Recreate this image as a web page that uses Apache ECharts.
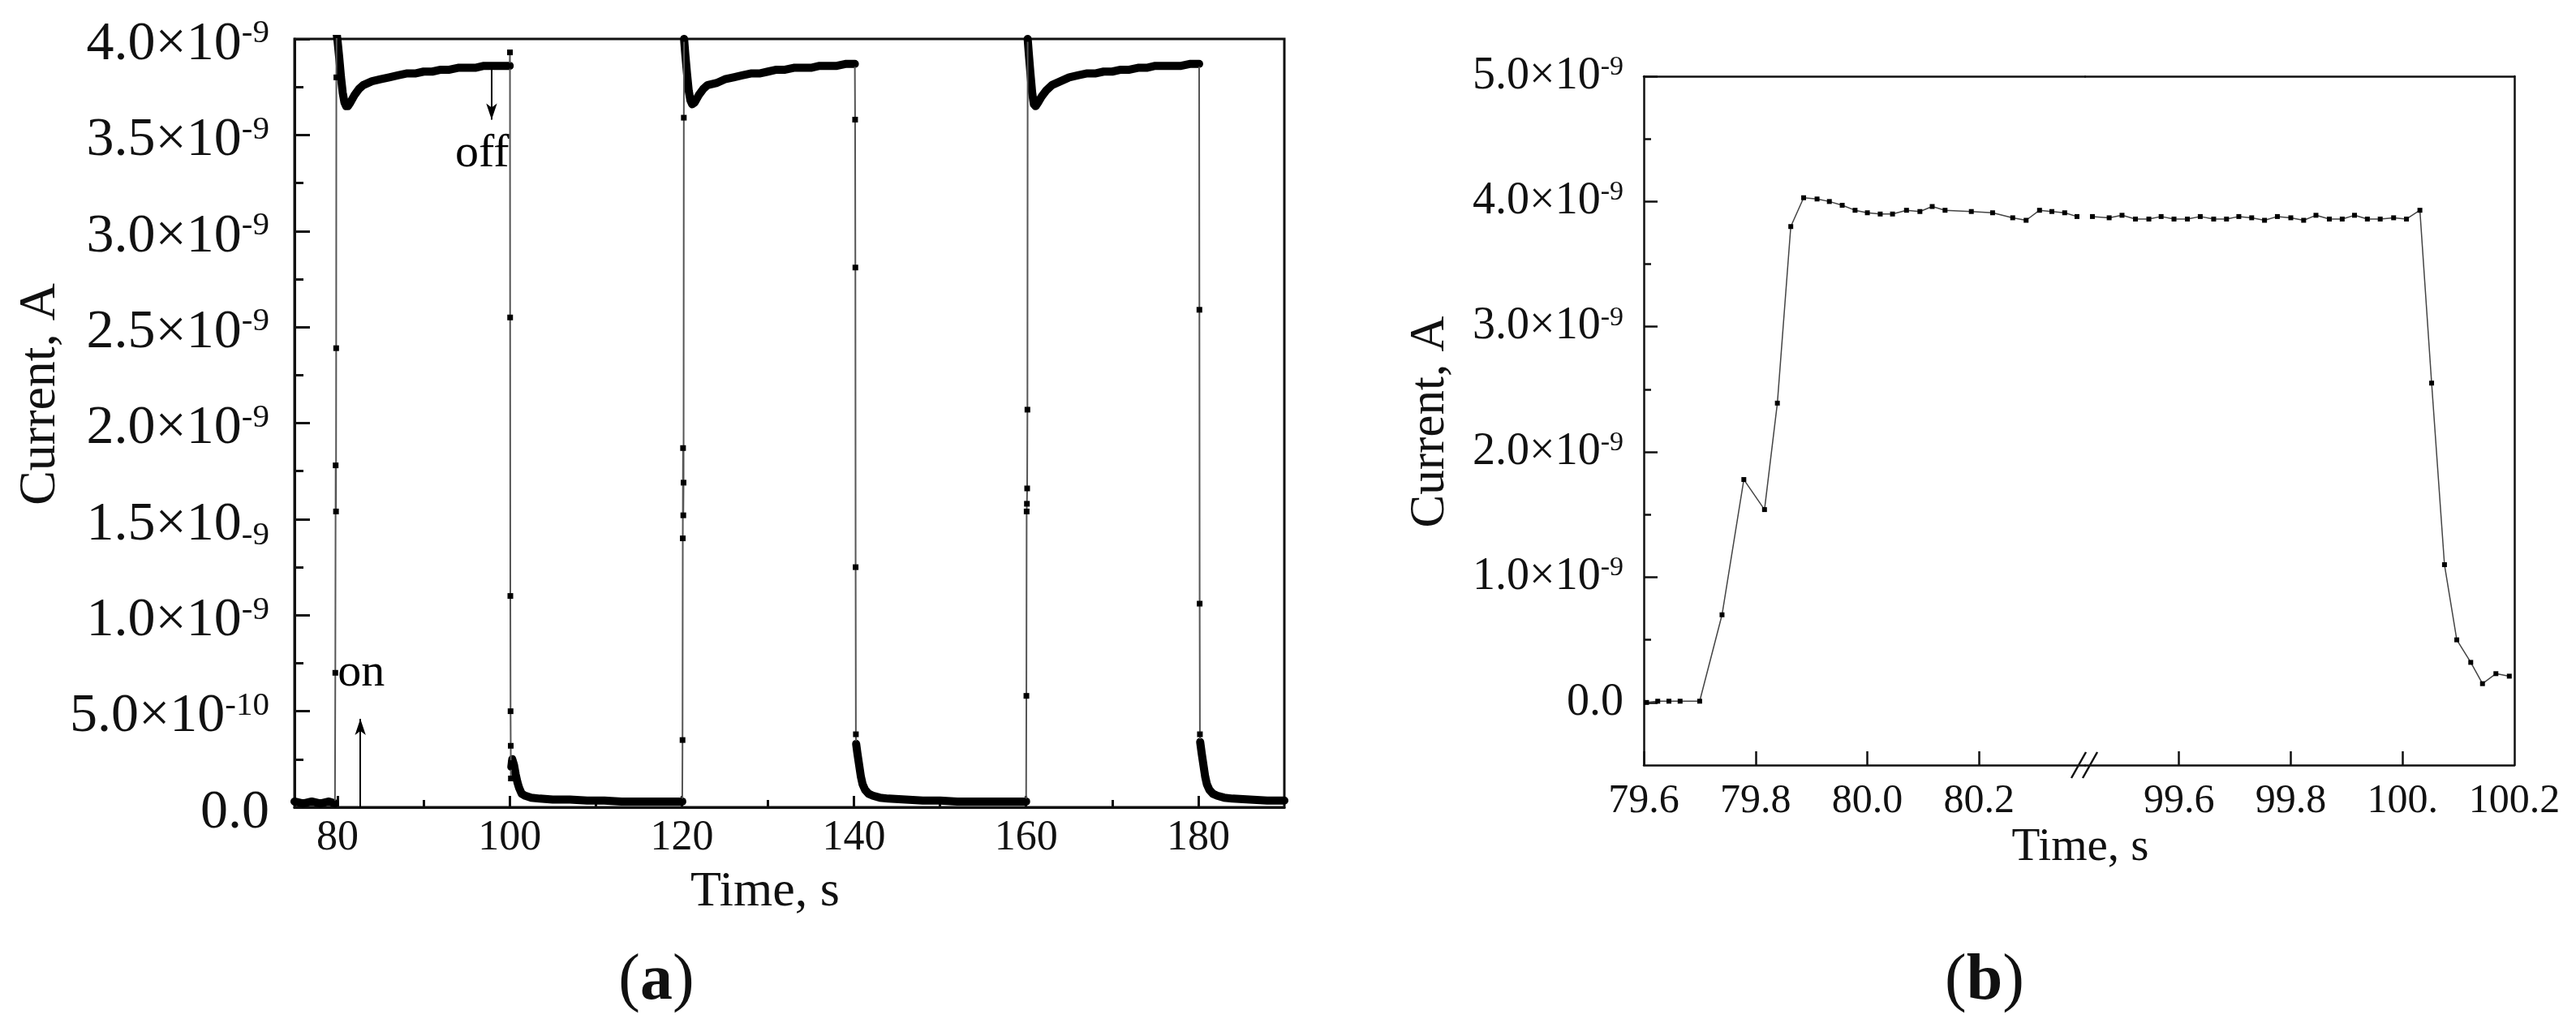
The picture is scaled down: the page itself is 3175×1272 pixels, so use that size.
<!DOCTYPE html>
<html><head><meta charset="utf-8">
<script src="https://cdn.jsdelivr.net/npm/echarts@6/dist/echarts.min.js"></script>
<style>html,body{margin:0;padding:0;background:#fff}#c{width:3175px;height:1272px}</style>
</head><body><div id="c"></div><script>
// Current values are in units of 1e-9 A; time in s.
// ---- Panel (a): plateaus (thick bands) and transitions ----
const aBase0 = [[75,0.03],[76,0.02],[77,0.03],[78,0.02],[79,0.03],[79.7,0.02]];
const aRise1 = [[79.7,0.02],[79.74,0.70],[79.78,1.78],[79.82,1.54],[79.84,2.39],[79.86,3.80],[79.89,4.03]];
const aOn1 = [[79.89,4.03],[80.0,3.99],[80.2,3.90],[80.4,3.80],[80.6,3.72],[80.8,3.67],[81.0,3.65],[81.2,3.65],[81.5,3.67],[82,3.71],[82.5,3.74],[83,3.76],[84,3.78],[85,3.79],[86,3.80],[87,3.81],[88,3.82],[89,3.82],[90,3.83],[91,3.83],[92,3.84],[93,3.84],[94,3.85],[95,3.85],[96,3.85],[97,3.86],[98,3.86],[99,3.86],[100,3.86]];
const aFall1 = [[100,3.86],[100.03,3.93],[100.05,2.55],[100.075,1.10],[100.1,0.50],[100.12,0.32],[100.14,0.15],[100.17,0.23],[100.19,0.21]];
const aOff1 = [[100.19,0.21],[100.3,0.25],[100.5,0.22],[100.7,0.17],[100.9,0.13],[101.1,0.10],[101.4,0.07],[101.8,0.06],[102.5,0.05],[103.5,0.045],[105,0.04],[107,0.04],[109,0.035],[111,0.035],[113,0.03],[115,0.03],[117,0.03],[119,0.03],[120.05,0.03]];
const aRise2 = [[120.05,0.03],[120.08,0.35],[120.11,1.40],[120.14,1.87],[120.17,1.52],[120.2,1.69],[120.23,3.59],[120.26,4.00]];
const aOn2 = [[120.26,4.00],[120.4,3.92],[120.6,3.82],[120.8,3.73],[121,3.68],[121.2,3.66],[121.5,3.67],[122,3.71],[122.5,3.74],[123,3.76],[124,3.77],[125,3.79],[126,3.80],[127,3.81],[128,3.82],[129,3.82],[130,3.83],[131,3.84],[132,3.84],[133,3.85],[134,3.85],[135,3.85],[136,3.86],[137,3.86],[138,3.86],[139,3.87],[140.1,3.87]];
const aFall2 = [[140.1,3.87],[140.13,3.58],[140.16,2.81],[140.19,1.25],[140.22,0.38],[140.25,0.33]];
const aOff2 = [[140.25,0.33],[140.4,0.28],[140.6,0.22],[140.8,0.16],[141,0.12],[141.3,0.09],[141.7,0.07],[142.2,0.06],[143,0.05],[144,0.045],[146,0.04],[148,0.035],[150,0.035],[152,0.03],[154,0.03],[156,0.03],[158,0.03],[160,0.03]];
const aRise3 = [[160,0.03],[160.03,0.58],[160.06,1.54],[160.09,1.58],[160.12,1.66],[160.15,2.07],[160.18,4.00]];
const aOn3 = [[160.18,4.00],[160.3,3.93],[160.5,3.82],[160.7,3.72],[160.9,3.66],[161.1,3.65],[161.4,3.67],[161.8,3.70],[162.3,3.73],[163,3.76],[164,3.78],[165,3.80],[166,3.81],[167,3.82],[168,3.82],[169,3.83],[170,3.83],[171,3.84],[172,3.84],[173,3.85],[174,3.85],[175,3.86],[176,3.86],[177,3.86],[178,3.86],[179,3.87],[180.1,3.87]];
const aFall3 = [[180.1,3.87],[180.13,2.59],[180.16,1.06],[180.19,0.38],[180.22,0.34]];
const aOff3 = [[180.22,0.34],[180.4,0.28],[180.6,0.22],[180.8,0.16],[181,0.12],[181.3,0.09],[181.7,0.07],[182.2,0.06],[183,0.05],[184,0.045],[186,0.04],[188,0.035],[190,0.035]];
const aXTicks = [80,100,120,140,160,180];
const aXMinor = [90,110,130,150,170];

// ---- Panel (b): zoom of the rise at ~80 s and the fall at ~100 s ----
const bLeft = [[79.605,0.00],[79.625,0.01],[79.645,0.01],[79.665,0.01],[79.70,0.01],[79.74,0.70],[79.779,1.78],[79.816,1.54],[79.839,2.39],[79.863,3.80],[79.886,4.03],[79.91,4.02],[79.932,4.00],[79.955,3.97],[79.978,3.93],[80.0,3.91],[80.023,3.90],[80.045,3.90],[80.07,3.93],[80.094,3.92],[80.116,3.96],[80.139,3.93],[80.186,3.92],[80.224,3.91],[80.26,3.87],[80.284,3.85],[80.308,3.93],[80.33,3.92],[80.353,3.91],[80.375,3.88]];
const bRight = [[99.445,3.88],[99.475,3.87],[99.498,3.89],[99.522,3.86],[99.546,3.86],[99.568,3.88],[99.591,3.86],[99.615,3.86],[99.638,3.88],[99.662,3.86],[99.685,3.86],[99.707,3.88],[99.73,3.87],[99.753,3.85],[99.776,3.88],[99.8,3.87],[99.823,3.85],[99.845,3.89],[99.869,3.86],[99.892,3.86],[99.914,3.89],[99.937,3.86],[99.96,3.86],[99.984,3.87],[100.007,3.86],[100.031,3.93],[100.052,2.55],[100.075,1.10],[100.097,0.50],[100.122,0.32],[100.143,0.15],[100.167,0.23],[100.191,0.21]];
const bXTicksLeft = [79.6,79.8,80.0,80.2];
const bXTicksRight = [99.6,99.8,100.0,100.2];
const bYTicks = [0,1,2,3,4,5];
const bYMinor = [0.5,1.5,2.5,3.5,4.5];

const FONT = '"Liberation Serif","Times New Roman",serif';
const INK = '#111';

const aPlateaus = [aBase0, aOn1, aOff1, aOn2, aOff2, aOn3, aOff3];
const aTransitions = [aRise1, aFall1, aRise2, aFall2, aRise3, aFall3];

function fmtA(v) {
  if (Math.abs(v) < 1e-12) return '{m|0.0}';
  let m = v, e = '-9';
  if (v < 1) { m = v * 10; e = '-10'; }
  const s = m.toFixed(1);
  if (Math.abs(v - 1.5) < 1e-9) return '{m|' + s + '×10}{sub|' + e + '}';
  return '{m|' + s + '×10}{sup|' + e + '}';
}
function fmtB(v) {
  if (Math.abs(v) < 1e-12) return '{m|0.0}';
  return '{m|' + v.toFixed(1) + '×10}{sup|-9}';
}
function fmtBx(v) {
  if (Math.abs(v - 100) < 1e-9) return '100.';
  return v.toFixed(1);
}

const series = [];
aPlateaus.forEach(seg => series.push({
  type: 'line', xAxisIndex: 0, yAxisIndex: 0, data: seg, symbol: 'none', silent: true,
  lineStyle: { width: 10, color: '#000', cap: 'round', join: 'round' }, animation: false
}));
aTransitions.forEach((seg, i) => {
  const s = {
    type: 'line', xAxisIndex: 0, yAxisIndex: 0, data: seg, symbol: 'rect', symbolSize: 7,
    itemStyle: { color: '#000' }, lineStyle: { width: 2, color: '#555' }, animation: false, silent: true
  };
  if (i === 0) {
    s.markLine = {
      silent: true, symbol: ['none', 'arrow'], symbolSize: [10, 20], animation: false,
      lineStyle: { color: '#000', width: 2, type: 'solid' }, label: { show: false },
      data: [
        [{ coord: [97.9, 3.84] }, { coord: [97.9, 3.58] }],
        [{ coord: [82.65, 0] }, { coord: [82.65, 0.46] }]
      ]
    };
    s.markPoint = {
      symbol: 'circle', symbolSize: 1, itemStyle: { color: 'rgba(0,0,0,0)' }, animation: false,
      label: { show: true, position: 'inside', color: '#000', fontFamily: FONT, fontSize: 58 },
      data: [
        { coord: [96.8, 3.40], label: { formatter: 'off' } },
        { coord: [82.75, 0.70], label: { formatter: 'on' } }
      ]
    };
  }
  series.push(s);
});
series.push({
  type: 'line', xAxisIndex: 2, yAxisIndex: 1, data: bLeft, symbol: 'rect', symbolSize: 6,
  itemStyle: { color: '#000' }, lineStyle: { width: 1.5, color: '#444' }, animation: false
});
series.push({
  type: 'line', xAxisIndex: 4, yAxisIndex: 3, data: bRight, symbol: 'rect', symbolSize: 6,
  itemStyle: { color: '#000' }, lineStyle: { width: 1.5, color: '#444' }, animation: false
});

const lineA = { show: true, onZero: false, lineStyle: { color: INK, width: 3 } };
const lineB = { show: true, onZero: false, lineStyle: { color: INK, width: 2.5 } };
const noLine = { show: false, onZero: false };
const off = { show: false };

const option = {
  backgroundColor: '#fff',
  animation: false,
  grid: [
    { left: 363, top: 48, width: 1220, height: 947, show: true, borderColor: INK, borderWidth: 3 },
    { left: 2026, top: 94, width: 544, height: 849 },
    { left: 2570, top: 94, width: 529, height: 849 }
  ],
  xAxis: [
    { type: 'value', gridIndex: 0, min: 75, max: 190, position: 'bottom', axisLine: lineA, splitLine: off,
      axisTick: { show: true, inside: true, length: 14, customValues: aXTicks, lineStyle: { color: INK, width: 3 } },
      axisLabel: { customValues: aXTicks, margin: 12, fontSize: 52, fontFamily: FONT, color: INK } },
    { type: 'value', gridIndex: 0, min: 75, max: 190, position: 'bottom', axisLine: noLine, splitLine: off,
      axisTick: { show: true, inside: true, length: 9, customValues: aXMinor, lineStyle: { color: INK, width: 3 } },
      axisLabel: off },
    { type: 'value', gridIndex: 1, min: 79.6, max: 80.3896, position: 'bottom', axisLine: lineB, splitLine: off,
      axisTick: { show: true, inside: true, length: 17, customValues: bXTicksLeft, lineStyle: { color: INK, width: 2.5 } },
      axisLabel: { customValues: bXTicksLeft, formatter: fmtBx, margin: 20, fontSize: 50, fontFamily: FONT, color: INK } },
    { type: 'value', gridIndex: 1, min: 79.6, max: 80.3896, position: 'top', axisLine: lineB, splitLine: off,
      axisTick: off, axisLabel: off },
    { type: 'value', gridIndex: 2, min: 99.432, max: 100.2, position: 'bottom', axisLine: lineB, splitLine: off,
      axisTick: { show: true, inside: true, length: 17, customValues: [99.6, 99.8, 100.0], lineStyle: { color: INK, width: 2.5 } },
      axisLabel: { customValues: bXTicksRight, formatter: fmtBx, margin: 20, fontSize: 50, fontFamily: FONT, color: INK } },
    { type: 'value', gridIndex: 2, min: 99.432, max: 100.2, position: 'top', axisLine: lineB, splitLine: off,
      axisTick: off, axisLabel: off }
  ],
  yAxis: [
    { type: 'value', gridIndex: 0, min: 0, max: 4, interval: 0.5, position: 'left', axisLine: lineA, splitLine: off,
      axisTick: { show: true, inside: true, length: 19, lineStyle: { color: INK, width: 3 } },
      minorTick: { show: true, splitNumber: 2, length: 11, lineStyle: { color: INK, width: 3 } },
      axisLabel: { formatter: fmtA, margin: 31, color: INK, padding: [14, 0, 0, 0],
        rich: {
          m: { fontSize: 68, fontFamily: FONT, color: INK, lineHeight: 68 },
          sup: { fontSize: 41, fontFamily: FONT, color: INK, lineHeight: 41, verticalAlign: 'top' },
          sub: { fontSize: 41, fontFamily: FONT, color: INK, lineHeight: 41, verticalAlign: 'bottom' }
        } } },
    { type: 'value', gridIndex: 1, min: -0.5, max: 5, position: 'left', axisLine: lineB, splitLine: off,
      axisTick: { show: true, inside: true, length: 17, customValues: bYTicks, lineStyle: { color: INK, width: 2.5 } },
      axisLabel: { customValues: bYTicks, formatter: fmtB, margin: 25, color: INK,
        rich: {
          m: { fontSize: 56, fontFamily: FONT, color: INK, lineHeight: 56 },
          sup: { fontSize: 34, fontFamily: FONT, color: INK, lineHeight: 34, verticalAlign: 'top' }
        } } },
    { type: 'value', gridIndex: 1, min: -0.5, max: 5, position: 'left', axisLine: noLine, splitLine: off,
      axisTick: { show: true, inside: true, length: 9, customValues: bYMinor, lineStyle: { color: INK, width: 2.5 } },
      axisLabel: off },
    { type: 'value', gridIndex: 2, min: -0.5, max: 5, position: 'right', axisLine: lineB, splitLine: off,
      axisTick: off, axisLabel: off }
  ],
  series: series,
  graphic: [
    { type: 'text', x: 50, y: 486, rotation: Math.PI / 2,
      style: { text: 'Current, A', fontSize: 64, fontFamily: FONT, fill: INK, align: 'center', verticalAlign: 'middle' } },
    { type: 'text', x: 943, y: 1100,
      style: { text: 'Time, s', fontSize: 62, fontFamily: FONT, fill: INK, align: 'center', verticalAlign: 'middle' } },
    { type: 'text', x: 809, y: 1210,
      style: { text: '({b|a})', fontSize: 80, fontFamily: FONT, fill: INK, align: 'center', verticalAlign: 'middle',
        rich: { b: { fontSize: 80, fontFamily: FONT, fontWeight: 'bold', fill: INK } } } },
    { type: 'text', x: 1763, y: 520, rotation: Math.PI / 2,
      style: { text: 'Current, A', fontSize: 61, fontFamily: FONT, fill: INK, align: 'center', verticalAlign: 'middle' } },
    { type: 'text', x: 2564, y: 1045,
      style: { text: 'Time, s', fontSize: 57, fontFamily: FONT, fill: INK, align: 'center', verticalAlign: 'middle' } },
    { type: 'text', x: 2446, y: 1210,
      style: { text: '({b|b})', fontSize: 80, fontFamily: FONT, fill: INK, align: 'center', verticalAlign: 'middle',
        rich: { b: { fontSize: 80, fontFamily: FONT, fontWeight: 'bold', fill: INK } } } },
    { type: 'line', z: 100, shape: { x1: 2553, y1: 959, x2: 2571, y2: 927 }, style: { stroke: INK, lineWidth: 2.5 } },
    { type: 'line', z: 100, shape: { x1: 2567, y1: 959, x2: 2585, y2: 927 }, style: { stroke: INK, lineWidth: 2.5 } }
  ]
};

const chart = echarts.init(document.getElementById('c'), null, { renderer: 'canvas', width: 3175, height: 1272 });
chart.setOption(option);
</script></body></html>
